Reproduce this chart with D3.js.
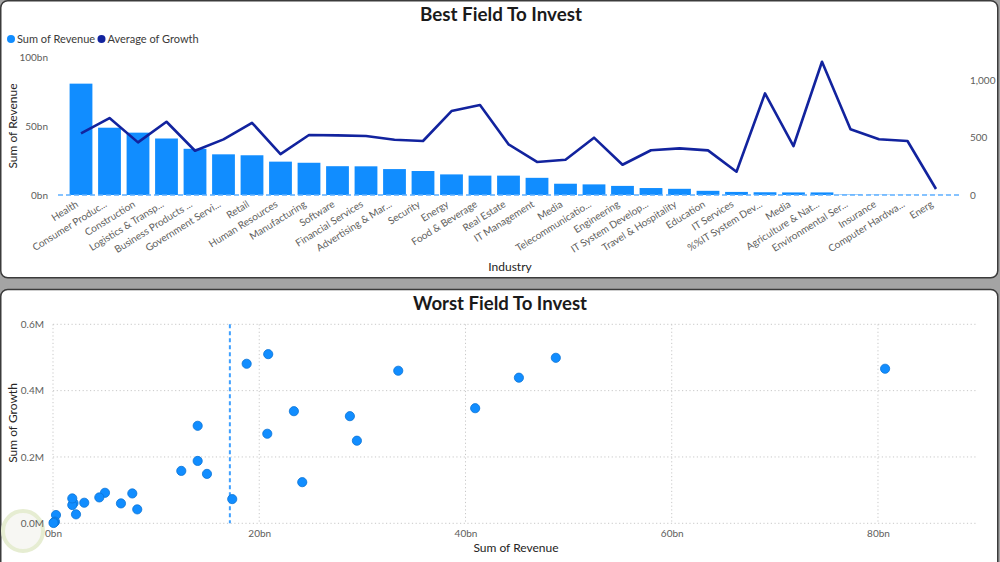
<!DOCTYPE html>
<html><head><meta charset="utf-8">
<script src="https://cdn.jsdelivr.net/npm/d3@7"></script>
<style>
html,body{margin:0;padding:0;background:#a4a4a4;overflow:hidden;}
svg{display:block;}
text{font-family:Lato,"Open Sans",sans-serif;}
</style></head><body>
<svg id="c" width="1000" height="562"></svg>
<script>
// ---------- data ----------
const categories = ["Health","Consumer Produc...","Construction","Logistics & Transp...","Business Products ...","Government Servi...","Retail","Human Resources","Manufacturing","Software","Financial Services","Advertising & Mar...","Security","Energy","Food & Beverage","Real Estate","IT Management","Media","Telecommunicatio...","Engineering","IT System Develop...","Travel & Hospitality","Education","IT Services","%%IT System Dev...","Media","Agriculture & Nat...","Environmental Ser...","Insurance","Computer Hardwa...","Energ"];
// Sum of Revenue (bn)
const revenue = [80.69,48.76,45.18,40.94,33.48,29.47,28.79,24.17,23.36,20.87,20.78,18.78,17.38,14.93,14.03,14.03,12.44,8.17,7.69,6.59,5.04,4.49,3.03,2.23,1.99,1.87,1.87,0.29,0.19,0.10,0.05];
// Average of Growth
const avgGrowth = [538,671,459,639,386,485,630,357,523,520,514,482,471,732,785,442,288,308,500,264,390,407,389,203,886,427,1162,573,486,471,52];
// Sum of Growth (M)
const sumGrowth = [0.466,0.499,0.439,0.347,0.460,0.249,0.323,0.124,0.338,0.510,0.270,0.481,0.073,0.149,0.294,0.188,0.158,0.042,0.090,0.060,0.092,0.078,0.062,0.027,0.061,0.055,0.075,0.025,0.005,0.003,0.001];
const revTicks = [0,50,100];
const growthTicks = [0,500,1000];
const scatterXTicks = [0,20,40,60,80];
const scatterYTicks = [0,0.2,0.4,0.6];

const BAR = "#118DFF", LINE = "#12239E", TICK = "#605E5C", DARK = "#252423";
const svg = d3.select("#c");

// panels
svg.append("rect").attr("x",0.75).attr("y",0.75).attr("width",997).attr("height",277)
  .attr("rx",7).attr("fill","#fff").attr("stroke","#3b3b3b").attr("stroke-width",1.5);
svg.append("rect").attr("x",0.75).attr("y",289.5).attr("width",997).attr("height",290)
  .attr("rx",7).attr("fill","#fff").attr("stroke","#3b3b3b").attr("stroke-width",1.5);

// ---------- top chart ----------
const gTop = svg.append("g");
gTop.append("text").attr("x",501).attr("y",21).attr("text-anchor","middle")
  .attr("font-size",19).attr("font-weight","bold").attr("fill","#1a1a1a")
  .attr("textLength",162).attr("lengthAdjust","spacingAndGlyphs")
  .text("Best Field To Invest");

// legend
const leg = [{t:"Sum of Revenue",c:BAR,x:11},{t:"Average of Growth",c:LINE,x:101.5}];
leg.forEach(l=>{
  gTop.append("circle").attr("cx",l.x).attr("cy",39).attr("r",4).attr("fill",l.c);
  gTop.append("text").attr("x",l.x+6).attr("y",43).attr("font-size",11).attr("fill","#3b3a39").text(l.t);
});

const x = d3.scaleBand().domain(d3.range(categories.length)).range([66.75,950.25])
  .paddingInner(0.2).paddingOuter(0.1);
const yL = d3.scaleLinear().domain([0,100]).range([195,57]);
const yR = d3.scaleLinear().domain([0,1200]).range([195,57.4]);

gTop.selectAll("rect.bar").data(revenue).join("rect").attr("class","bar")
  .attr("x",(d,i)=>x(i)).attr("width",x.bandwidth())
  .attr("y",d=>yL(d)).attr("height",d=>yL(0)-yL(d)).attr("fill",BAR);

gTop.append("line").attr("x1",58).attr("x2",962).attr("y1",yL(0)).attr("y2",yL(0))
  .attr("stroke","#5fb0ff").attr("stroke-width",1.6).attr("stroke-dasharray","5,3");

gTop.append("path").datum(avgGrowth)
  .attr("d",d3.line().x((d,i)=>x(i)+x.bandwidth()/2).y(d=>yR(d)))
  .attr("fill","none").attr("stroke",LINE).attr("stroke-width",2.6).attr("stroke-linejoin","round");

// left axis
const gL = gTop.append("g").attr("transform","translate(51,0)")
  .call(d3.axisLeft(yL).tickValues(revTicks).tickSize(0).tickFormat(d=>d+"bn"));
gL.select(".domain").remove();
gL.selectAll("text").attr("font-size",10).attr("fill",TICK);
// right axis
const gR = gTop.append("g").attr("transform","translate(967,0)")
  .call(d3.axisRight(yR).tickValues(growthTicks).tickSize(0).tickFormat(d3.format(",")));
gR.select(".domain").remove();
gR.selectAll("text").attr("font-size",10).attr("fill",TICK);
// x axis
const gX = gTop.append("g").attr("transform","translate(0,195)")
  .call(d3.axisBottom(x).tickSize(0).tickFormat(i=>categories[i]));
gX.select(".domain").remove();
gX.selectAll("text").attr("font-size",10).attr("fill",TICK)
  .attr("text-anchor","end").attr("dy",0).attr("y",0)
  .attr("transform","translate(-2,11) rotate(-32)");

gTop.append("text").attr("transform","translate(17,126) rotate(-90)").attr("text-anchor","middle")
  .attr("font-size",12).attr("fill",DARK).text("Sum of Revenue");
gTop.append("text").attr("x",510).attr("y",271).attr("text-anchor","middle")
  .attr("font-size",12).attr("fill",DARK).text("Industry");

// ---------- bottom chart ----------
const gBot = svg.append("g");
gBot.append("text").attr("x",500).attr("y",310).attr("text-anchor","middle")
  .attr("font-size",19).attr("font-weight","bold").attr("fill","#1a1a1a")
  .attr("textLength",174).attr("lengthAdjust","spacingAndGlyphs")
  .text("Worst Field To Invest");

const sx = d3.scaleLinear().domain([0,89.7]).range([53,978]);
const sy = d3.scaleLinear().domain([0,0.6]).range([523.3,324.3]);

// faint watermark
gBot.append("circle").attr("cx",23).attr("cy",531).attr("r",20).attr("fill","#f7f7f3")
  .attr("stroke","#e6edd2").attr("stroke-width",4);

// grid
gBot.selectAll("line.hg").data(scatterYTicks).join("line").attr("class","hg")
  .attr("x1",53).attr("x2",978).attr("y1",d=>sy(d)).attr("y2",d=>sy(d))
  .attr("stroke","#c8c8c8").attr("stroke-dasharray","1.2,2.5");
gBot.selectAll("line.vg").data(scatterXTicks).join("line").attr("class","vg")
  .attr("x1",d=>sx(d)).attr("x2",d=>sx(d)).attr("y1",324.3).attr("y2",523.3)
  .attr("stroke","#c8c8c8").attr("stroke-dasharray","1.2,2.5");

const gSY = gBot.append("g").attr("transform","translate(47,0)")
  .call(d3.axisLeft(sy).tickValues(scatterYTicks).tickSize(0).tickFormat(d=>d3.format(".1f")(d)+"M"));
gSY.select(".domain").remove();
gSY.selectAll("text").attr("font-size",10).attr("fill",TICK);
const gSX = gBot.append("g").attr("transform","translate(0,527)")
  .call(d3.axisBottom(sx).tickValues(scatterXTicks).tickSize(0).tickFormat(d=>d+"bn"));
gSX.select(".domain").remove();
gSX.selectAll("text").attr("font-size",10).attr("fill",TICK);

// average line
const avgRev = d3.mean(revenue);
gBot.append("line").attr("x1",sx(avgRev)).attr("x2",sx(avgRev)).attr("y1",324.3).attr("y2",523.3)
  .attr("stroke","#3fa0ff").attr("stroke-width",2).attr("stroke-dasharray","4,3");

gBot.selectAll("circle.pt").data(revenue).join("circle").attr("class","pt")
  .attr("cx",d=>sx(d)).attr("cy",(d,i)=>sy(sumGrowth[i])).attr("r",4.6)
  .attr("fill",BAR).attr("stroke","#0b74d6").attr("stroke-width",0.8);

gBot.append("text").attr("transform","translate(17,423) rotate(-90)").attr("text-anchor","middle")
  .attr("font-size",12).attr("fill",DARK).text("Sum of Growth");
gBot.append("text").attr("x",516).attr("y",552).attr("text-anchor","middle")
  .attr("font-size",12).attr("fill",DARK).text("Sum of Revenue");
</script></body></html>
